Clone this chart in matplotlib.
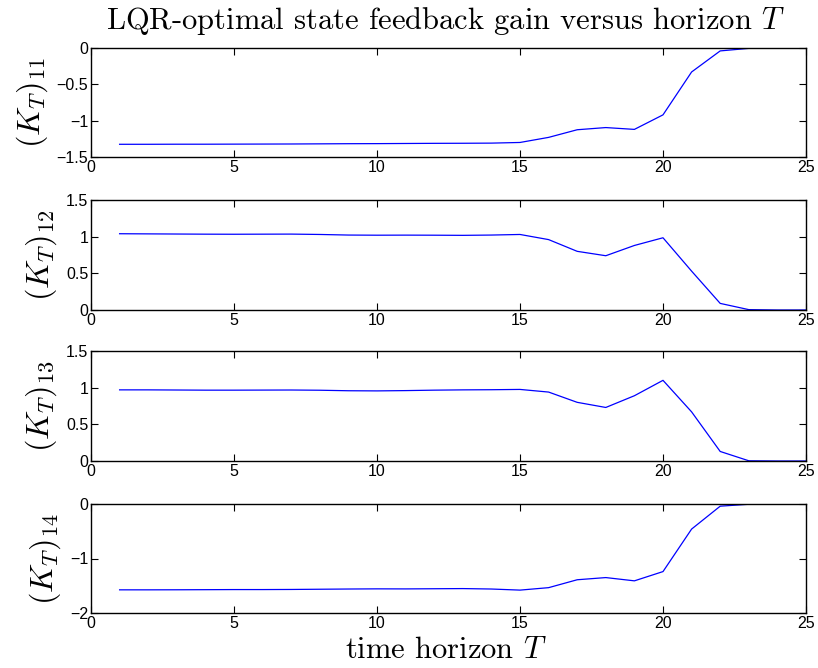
import matplotlib
matplotlib.use("Agg")
import matplotlib.pyplot as plt
import numpy as np

T = list(range(1, 26))
k11 = [-1.325, -1.325, -1.324, -1.324, -1.323, -1.322, -1.321, -1.319, -1.317, -1.316,
       -1.314, -1.312, -1.311, -1.309, -1.300, -1.230, -1.125, -1.095, -1.120, -0.920,
       -0.330, -0.040, -0.005, 0.0, 0.0]
k12 = [1.040, 1.038, 1.036, 1.034, 1.033, 1.034, 1.035, 1.030, 1.022, 1.020,
       1.021, 1.020, 1.018, 1.022, 1.030, 0.960, 0.800, 0.740, 0.880, 0.985,
       0.530, 0.090, 0.005, 0.0, 0.0]
k13 = [0.970, 0.970, 0.968, 0.966, 0.966, 0.967, 0.968, 0.965, 0.958, 0.956,
       0.960, 0.966, 0.970, 0.972, 0.976, 0.940, 0.800, 0.730, 0.890, 1.100,
       0.670, 0.130, 0.003, 0.0, 0.0]
k14 = [-1.575, -1.575, -1.574, -1.572, -1.570, -1.570, -1.568, -1.564, -1.560, -1.557,
       -1.558, -1.555, -1.552, -1.560, -1.580, -1.535, -1.390, -1.350, -1.410, -1.240,
       -0.460, -0.040, -0.005, 0.0, 0.0]

series = [k11, k12, k13, k14]
ylabels = [r"$(K_T)_{11}$", r"$(K_T)_{12}$", r"$(K_T)_{13}$", r"$(K_T)_{14}$"]
ylims = [(-1.5, 0), (0, 1.5), (0, 1.5), (-2, 0)]
yticks = [[-1.5, -1, -0.5, 0], [0, 0.5, 1, 1.5], [0, 0.5, 1, 1.5], [-2, -1, 0]]
ytlabels = [["\u22121.5", "\u22121", "\u22120.5", "0"], ["0", "0.5", "1", "1.5"],
            ["0", "0.5", "1", "1.5"], ["\u22122", "\u22121", "0"]]
xticks = [0, 5, 10, 15, 20, 25]

plt.rcParams['mathtext.fontset'] = 'cm'
plt.rcParams['font.family'] = ['Liberation Sans', 'DejaVu Sans']

fig = plt.figure(figsize=(8.18, 6.68), dpi=100)
left, right = 91/818, 806/818
boxes = [(48, 157), (200, 310), (351, 461), (504, 613)]

for i, (top, bot) in enumerate(boxes):
    ax = fig.add_axes([left, 1 - bot/668, right - left, (bot - top)/668])
    ax.plot(T, series[i], color=(0, 0, 1), lw=0.9)
    ax.set_xlim(0, 25)
    ax.set_ylim(*ylims[i])
    ax.set_xticks(xticks)
    ax.set_xticklabels([str(v) for v in xticks])
    ax.set_yticks(yticks[i])
    ax.set_yticklabels(ytlabels[i])
    ax.tick_params(direction='in', top=True, right=True, labelsize=11.5,
                   length=5, width=0.8, pad=2)
    for s in ax.spines.values():
        s.set_linewidth(1.0)
    ax.set_ylabel(ylabels[i], fontsize=23, labelpad=5)

fig.text(0.545, 0.968, r"LQR-optimal state feedback gain versus horizon $T$",
         family='cmr10', fontsize=22, ha='center', va='center')
fig.text(0.545, 0.027, r"time horizon $T$", family='cmr10', fontsize=22,
         ha='center', va='center')

fig.savefig("out.png", dpi=100)
